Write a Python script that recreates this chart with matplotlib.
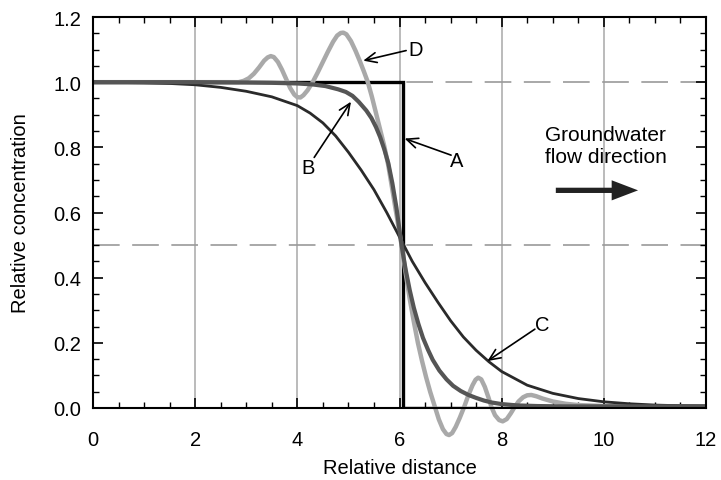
import matplotlib
matplotlib.use("Agg")
import matplotlib.pyplot as plt
from matplotlib.patches import FancyArrowPatch, ArrowStyle
from matplotlib.ticker import MultipleLocator, FormatStrFormatter

plt.rcParams['font.family'] = ['Liberation Sans', 'DejaVu Sans']

# ---- data ----
a_x = [0.0, 6.06, 6.06, 12.0]
a_y = [1.0, 1.0, 0.0, 0.0]

b_x = [0.0, 2.0, 3.0, 3.5, 4.0, 4.3, 4.55, 4.8, 4.95, 5.08, 5.2, 5.35, 5.45, 5.54, 5.62,
       5.7, 5.78, 5.86, 5.94, 6.04, 6.12, 6.2, 6.28, 6.37, 6.46, 6.56, 6.65, 6.78, 6.92,
       7.05, 7.2, 7.35, 7.5, 7.65, 7.8, 8.0, 8.3, 8.7, 9.2, 12.0]
b_y = [1.0, 1.0, 0.999, 0.998, 0.996, 0.993, 0.988, 0.978, 0.97, 0.958, 0.94, 0.913, 0.89,
       0.862, 0.832, 0.795, 0.752, 0.69, 0.615, 0.5, 0.425, 0.362, 0.308, 0.258, 0.215,
       0.178, 0.148, 0.115, 0.088, 0.068, 0.052, 0.04, 0.031, 0.023, 0.017, 0.012, 0.008,
       0.006, 0.005, 0.005]

c_x = [0.0, 0.5, 1.0, 1.5, 2.0, 2.5, 3.0, 3.5, 4.0, 4.25, 4.5, 4.75, 5.0, 5.25, 5.5, 5.75,
       6.0, 6.25, 6.5, 6.75, 7.0, 7.25, 7.5, 7.75, 8.0, 8.5, 9.0, 9.5, 10.0, 10.5, 11.0, 11.5, 12.0]
c_y = [1.0, 0.999, 0.998, 0.996, 0.992, 0.984, 0.972, 0.955, 0.928, 0.905, 0.875, 0.835, 0.785,
       0.73, 0.67, 0.60, 0.525, 0.45, 0.385, 0.325, 0.268, 0.218, 0.177, 0.142, 0.112, 0.07,
       0.045, 0.029, 0.019, 0.013, 0.009, 0.007, 0.006]

d_x = [0.0, 2.5, 2.85, 2.95, 3.05, 3.15, 3.25, 3.35, 3.42, 3.48, 3.54, 3.62, 3.7, 3.78,
       3.86, 3.94, 4.0, 4.06, 4.12, 4.2, 4.3, 4.4, 4.5, 4.6, 4.7, 4.78, 4.85, 4.9, 4.96,
       5.05, 5.14, 5.22, 5.3, 5.38, 5.46, 5.54, 5.62, 5.7, 5.78, 5.86, 5.95, 6.04, 6.12,
       6.2, 6.28, 6.36, 6.44, 6.52, 6.6, 6.69, 6.77, 6.85, 6.92, 6.97, 7.03, 7.1, 7.18,
       7.27, 7.35, 7.43, 7.49, 7.54, 7.6, 7.67, 7.74, 7.8, 7.87, 7.95, 8.02, 8.1, 8.18,
       8.25, 8.33, 8.42, 8.5, 8.58, 8.68, 8.8, 9.0, 9.25, 9.5, 10.0, 12.0]
d_y = [1.0, 1.0, 1.0, 1.004, 1.012, 1.026, 1.045, 1.066, 1.076, 1.08, 1.077, 1.062, 1.038,
       1.01, 0.982, 0.962, 0.954, 0.953, 0.96, 0.975, 1.0, 1.03, 1.062, 1.094, 1.124, 1.143,
       1.151, 1.152, 1.147, 1.126, 1.096, 1.066, 1.034, 1.0, 0.955, 0.905, 0.855, 0.805,
       0.745, 0.67, 0.585, 0.5, 0.415, 0.335, 0.265, 0.2, 0.145, 0.095, 0.05, 0.005,
       -0.035, -0.065, -0.08, -0.083, -0.077, -0.058, -0.03, 0.005, 0.04, 0.07, 0.087,
       0.093, 0.088, 0.065, 0.033, 0.003, -0.022, -0.037, -0.041, -0.034, -0.016, 0.002,
       0.02, 0.033, 0.039, 0.04, 0.036, 0.029, 0.02, 0.013, 0.009, 0.006, 0.005]

x_ticks = [0, 2, 4, 6, 8, 10, 12]
y_ticks = [0.0, 0.2, 0.4, 0.6, 0.8, 1.0, 1.2]
grid_x = [2, 4, 6, 8, 10]
ref_levels = [0.5, 1.0]

FS = 14.5

fig = plt.figure(figsize=(7.21, 4.81), dpi=100)
ax = fig.add_axes([93/721, 1 - 409/481, 613/721, 391/481])

for gx in grid_x:
    ax.axvline(gx, color='#a8a8a8', lw=1.1, zorder=1)
for ry in ref_levels:
    ax.axhline(ry, color='#9a9a9a', lw=1.2, linestyle=(0, (16, 7.5)), zorder=1)

ax.plot(a_x, a_y, color='black', lw=2.4, zorder=3, solid_joinstyle='miter')
ax.plot(d_x, d_y, color='#a9a9a9', lw=3.2, zorder=4, clip_on=False,
        solid_capstyle='butt', solid_joinstyle='round')
ax.plot(c_x, c_y, color='#2a2a2a', lw=2.0, zorder=5, solid_joinstyle='round')
ax.plot(b_x, b_y, color='#555555', lw=3.0, zorder=6, solid_joinstyle='round')

ax.set_xlim(0, 12)
ax.set_ylim(0, 1.2)
ax.set_xticks(x_ticks)
ax.set_yticks(y_ticks)
ax.yaxis.set_major_formatter(FormatStrFormatter('%.1f'))
ax.xaxis.set_minor_locator(MultipleLocator(0.5))
ax.yaxis.set_minor_locator(MultipleLocator(0.05))
ax.tick_params(which='both', direction='in', top=True, right=True, colors='black')
ax.tick_params(which='major', length=7, width=1.2, labelsize=FS)
ax.tick_params(which='minor', length=4.3, width=1.0)
ax.tick_params(axis='x', which='major', pad=16)
ax.tick_params(axis='y', which='major', pad=8.5)
for s in ax.spines.values():
    s.set_linewidth(1.5)
    s.set_zorder(7)

ax.set_xlabel('Relative distance', fontsize=FS)
ax.set_ylabel('Relative concentration', fontsize=FS)
ax.xaxis.set_label_coords(0.5, -0.128)
ax.yaxis.set_label_coords(-0.103, 0.5)

arrow_kw = dict(arrowstyle='->,head_length=0.45,head_width=0.2', mutation_scale=18,
                lw=1.2, color='black', shrinkA=0, shrinkB=0)

labels = ['A', 'B', 'C', 'D']
label_pos = [(7.12, 0.760), (4.21, 0.739), (8.80, 0.255), (6.32, 1.100)]
arrow_tails = [(7.01, 0.776), (4.33, 0.769), (8.65, 0.242), (6.13, 1.097)]
arrow_tips = [(6.10, 0.827), (5.05, 0.940), (7.72, 0.144), (5.29, 1.066)]
for lab, p, t, h in zip(labels, label_pos, arrow_tails, arrow_tips):
    ax.text(p[0], p[1], lab, fontsize=FS, ha='center', va='center', zorder=8)
    ax.annotate('', xy=h, xytext=t, arrowprops=arrow_kw, zorder=8)

ax.text(10.04, 0.807, 'Groundwater\nflow direction', fontsize=15, ha='center', va='center',
        linespacing=1.2, zorder=8)
flow = FancyArrowPatch((9.06, 0.668), (10.67, 0.668),
                       arrowstyle=ArrowStyle.Simple(head_length=19, head_width=14.5, tail_width=3.8),
                       mutation_scale=1, color='#222222', lw=0, shrinkA=0, shrinkB=0, zorder=8)
ax.add_patch(flow)

fig.savefig('out.png', dpi=100)
